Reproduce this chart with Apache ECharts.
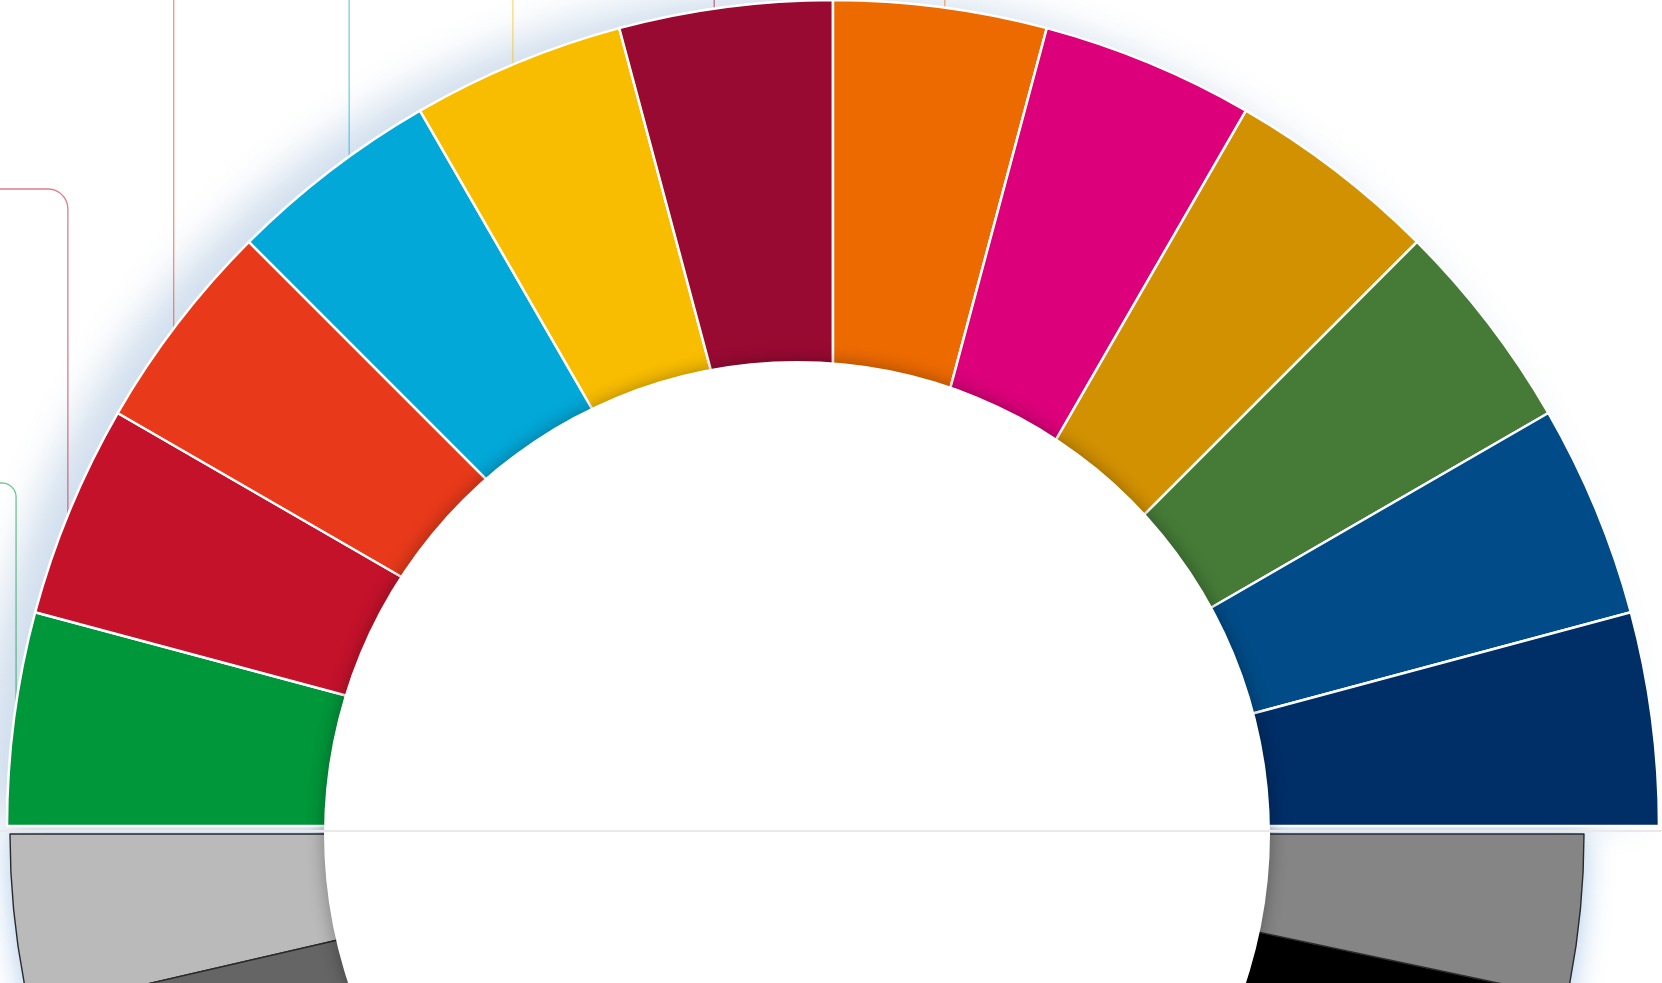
<!DOCTYPE html>
<html>
<head>
<meta charset="utf-8">
<script src="https://cdn.jsdelivr.net/npm/echarts@6/dist/echarts.min.js"></script>
<style>
html,body{margin:0;padding:0;background:#ffffff;overflow:hidden;}
#chart{width:1662px;height:983px;}
</style>
</head>
<body>
<div id="chart"></div>
<script>
// ---- data ----
const ringCategories = ['Segmento 1','Segmento 2','Segmento 3','Segmento 4','Segmento 5','Segmento 6',
                        'Segmento 7','Segmento 8','Segmento 9','Segmento 10','Segmento 11','Segmento 12'];
const ringValues = [1,1,1,1,1,1,1,1,1,1,1,1];
const ringColors = ['#00963a','#c4122b','#e83a1a','#02a8d8','#f9bd00','#990a33',
                    '#ec6a00','#dc007a','#d29100','#457b37','#014c88','#002e67'];
const ringLabelShown = [true,true,true,true,true,true,true,false,false,false,false,false];

const lowerCategories = ['Inferior 1','Inferior 2','Inferior 3','Inferior 4'];
const lowerValues = [13,77,78,12];
const lowerColors = ['#b9bab9','#656565','#000000','#858585'];

// ---- layout / style config ----
const RING_CENTER = [833, 826];
const RING_RADIUS = [400, 826];
const LOWER_CENTER = [797, 834];
const LOWER_RADIUS = [400, 787];
const HOLE_RADIUS = 473;
// horizontal nudge of each label line's anchor and where some lines turn left
const LABEL_DX = [2, -2, -4, 19, -4, -11, 4];
const LABEL_TURN = {0: {y: 483, r: 14}, 1: {y: 189, r: 20}};

const chart = echarts.init(document.getElementById('chart'), null, {renderer: 'canvas'});

const ringData = ringCategories.map(function (name, i) {
  return {
    name: name,
    value: ringValues[i],
    itemStyle: {color: ringColors[i]},
    label: {show: ringLabelShown[i]},
    labelLine: {show: ringLabelShown[i], lineStyle: {color: ringColors[i], opacity: 0.55, width: 1.3}}
  };
});

const lowerData = lowerCategories.map(function (name, i) {
  return {name: name, value: lowerValues[i], itemStyle: {color: lowerColors[i]}};
});

const option = {
  animation: false,
  backgroundColor: '#ffffff',
  series: [
    // glow backdrop behind upper ring
    {
      type: 'pie', silent: true, z: 1,
      center: RING_CENTER, radius: RING_RADIUS,
      startAngle: 180, endAngle: 0, clockwise: true,
      label: {show: false}, labelLine: {show: false},
      itemStyle: {color: '#ffffff', shadowBlur: 40, shadowColor: 'rgba(60,115,180,0.24)', shadowOffsetX: -30, shadowOffsetY: -10},
      data: [{name: '', value: 1}]
    },
    // glow backdrop behind lower half
    {
      type: 'pie', silent: true, z: 2,
      center: LOWER_CENTER, radius: LOWER_RADIUS,
      startAngle: 180, endAngle: 360, clockwise: false,
      label: {show: false}, labelLine: {show: false},
      itemStyle: {color: '#ffffff', shadowBlur: 30, shadowColor: 'rgba(50,125,205,0.42)'},
      data: [{name: '', value: 1}]
    },
    // lower gray half
    {
      type: 'pie', silent: true, z: 3,
      center: LOWER_CENTER, radius: LOWER_RADIUS,
      startAngle: 180, endAngle: 360, clockwise: false,
      label: {show: false}, labelLine: {show: false},
      itemStyle: {borderColor: '#2a2a2a', borderWidth: 1.4},
      data: lowerData
    },
    // upper colored ring
    {
      type: 'pie', z: 4,
      center: RING_CENTER, radius: RING_RADIUS,
      startAngle: 180, endAngle: 0, clockwise: true,
      avoidLabelOverlap: false,
      itemStyle: {borderColor: '#ffffff', borderWidth: 2.5},
      label: {show: true, position: 'outside', color: '#333', fontSize: 14, fontFamily: 'Roboto'},
      labelLine: {show: true, length: 10, length2: 10, smooth: false},
      emphasis: {disabled: true},
      labelLayout: function (p) {
        const pts = p.labelLinePoints;
        if (!pts || !pts.length) return {};
        const R = RING_RADIUS[1], cx = RING_CENTER[0], cy = RING_CENTER[1];
        const x0 = pts[0][0] + (LABEL_DX[p.dataIndex] || 0);
        const dx = x0 - cx;
        const y0 = cy - Math.sqrt(Math.max(0, R * R - dx * dx));
        const turn = LABEL_TURN[p.dataIndex];
        if (!turn) {
          return {x: x0, y: -90, align: 'center', labelLinePoints: [[x0, y0], [x0, -70]]};
        }
        const r = turn.r, ty = turn.y;
        const line = [[x0, y0], [x0, ty + r]];
        for (let k = 1; k < 10; k++) {
          const a = (k / 10) * Math.PI / 2;
          line.push([x0 - r + r * Math.cos(a), ty + r - r * Math.sin(a)]);
        }
        line.push([x0 - r, ty]);
        line.push([-70, ty]);
        return {x: -90, y: ty, align: 'right', labelLinePoints: line};
      },
      data: ringData
    },
    // white center disc with soft shadow
    {
      type: 'pie', silent: true, z: 5,
      center: LOWER_CENTER, radius: [0, HOLE_RADIUS],
      label: {show: false}, labelLine: {show: false},
      itemStyle: {color: '#ffffff', shadowBlur: 18, shadowColor: 'rgba(0,0,0,0.32)'},
      data: [{name: '', value: 1}]
    }
  ],
  graphic: [
    {
      type: 'line', z: 100, silent: true,
      shape: {x1: 0, y1: 831, x2: 1662, y2: 831},
      style: {stroke: '#e9e9e9', lineWidth: 2}
    }
  ]
};

chart.setOption(option);
</script>
</body>
</html>
